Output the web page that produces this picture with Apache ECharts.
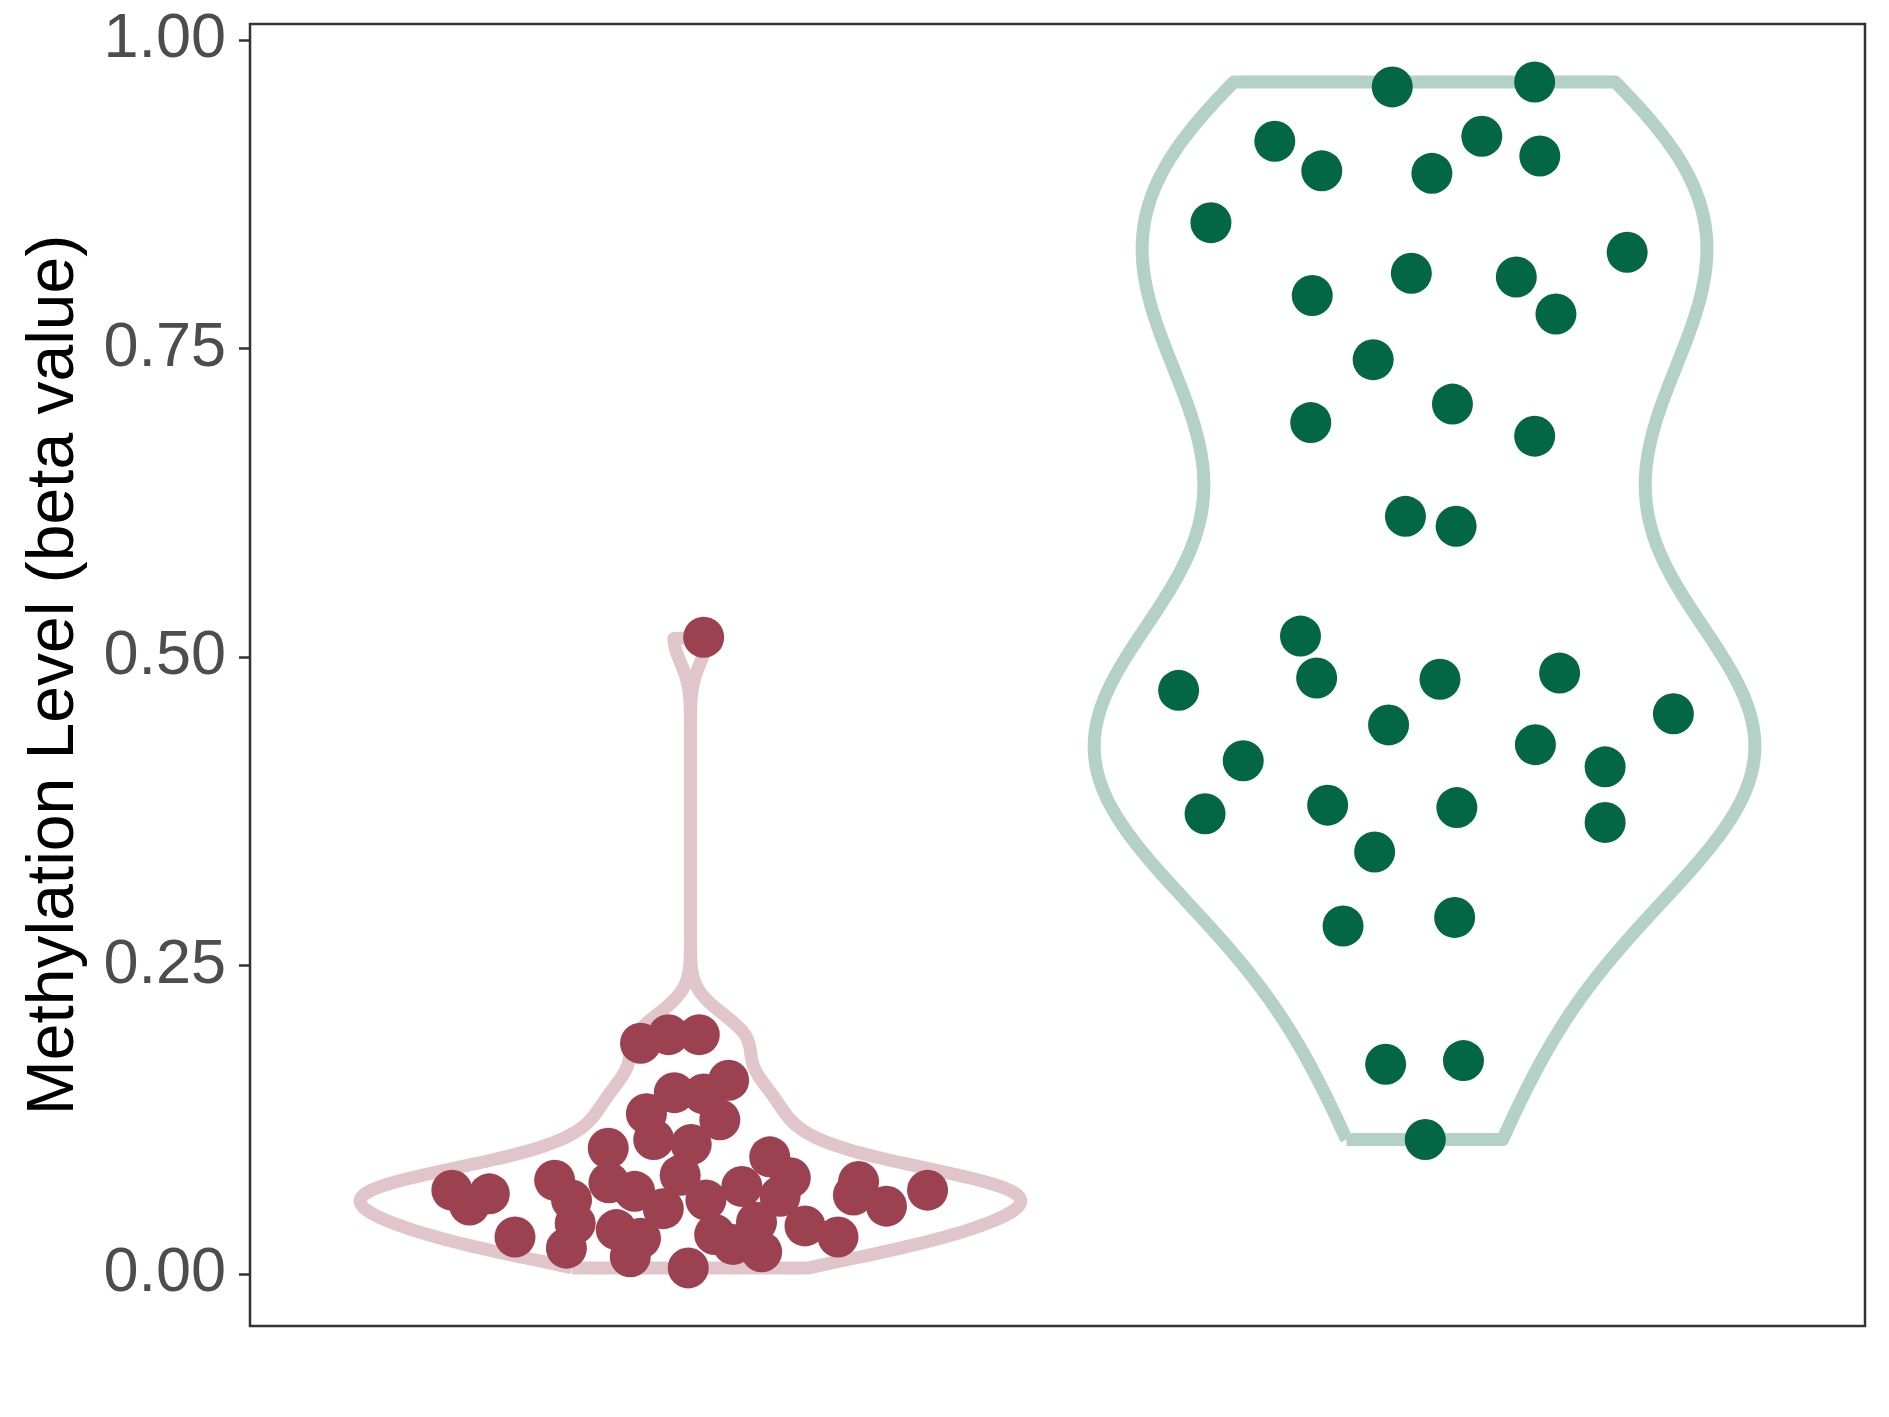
<!DOCTYPE html>
<html>
<head>
<meta charset="utf-8">
<script src="https://cdn.jsdelivr.net/npm/echarts@6/dist/echarts.min.js"></script>
<style>
  html, body { margin: 0; padding: 0; background: #fff; }
  #chart { width: 1889px; height: 1417px; }
</style>
</head>
<body>
<div id="chart"></div>
<script>
// group centres on the (hidden) x axis
const groupCenters = [1, 2];
const tickValues = [0, 0.25, 0.5, 0.75, 1];

// left group (red) - beta values and jittered x positions
const leftValues = [0.516, 0.187, 0.194, 0.194, 0.147, 0.146, 0.157, 0.130, 0.125, 0.109,
  0.105, 0.102, 0.095, 0.080, 0.068, 0.056, 0.065, 0.076, 0.060, 0.041,
  0.021, 0.030, 0.074, 0.067, 0.053, 0.036, 0.029, 0.014, 0.005, 0.060,
  0.071, 0.078, 0.063, 0.042, 0.032, 0.024, 0.018, 0.039, 0.030, 0.075,
  0.064, 0.055, 0.068];
const leftJitter = [1.018, 0.932, 0.970, 1.012, 0.978, 1.018, 1.052, 0.940, 1.040, 0.950,
  1.001, 0.888, 1.108, 0.986, 0.675, 0.699, 0.726, 0.815, 0.838, 0.843,
  0.831, 0.761, 0.889, 0.924, 0.963, 0.899, 0.932, 0.918, 0.997, 1.021,
  1.070, 1.136, 1.122, 1.090, 1.033, 1.058, 1.097, 1.156, 1.201, 1.229,
  1.222, 1.267, 1.323];

// right group (green)
const rightValues = [0.962, 0.966, 0.918, 0.894, 0.892, 0.922, 0.906, 0.852, 0.828, 0.793,
  0.811, 0.808, 0.778, 0.741, 0.690, 0.705, 0.679, 0.614, 0.606, 0.517,
  0.473, 0.483, 0.482, 0.487, 0.454, 0.445, 0.416, 0.429, 0.411, 0.373,
  0.380, 0.378, 0.366, 0.342, 0.282, 0.289, 0.170, 0.173, 0.109];
const rightJitter = [1.956, 2.150, 1.796, 1.860, 2.010, 2.078, 2.157, 1.709, 2.276, 1.847,
  1.982, 2.125, 2.179, 1.930, 1.845, 2.038, 2.150, 1.974, 2.043, 1.831,
  1.665, 1.853, 2.021, 2.184, 2.339, 1.951, 1.753, 2.151, 2.246, 1.701,
  1.868, 2.044, 2.246, 1.932, 1.889, 2.041, 1.947, 2.053, 2.001];

// gaussian kde, bw.nrd0 like R, trimmed to data range
function quantile(s, p) {
  const h = (s.length - 1) * p;
  const lo = Math.floor(h);
  const hi = Math.min(lo + 1, s.length - 1);
  return s[lo] + (h - lo) * (s[hi] - s[lo]);
}
function violinOutline(vals, center, halfWidth) {
  const s = vals.slice().sort((a, b) => a - b);
  const n = s.length;
  const mean = s.reduce((a, b) => a + b, 0) / n;
  const sd = Math.sqrt(s.reduce((a, b) => a + (b - mean) * (b - mean), 0) / (n - 1));
  const iqr = quantile(s, 0.75) - quantile(s, 0.25);
  const bw = 0.9 * Math.min(sd, iqr / 1.34) * Math.pow(n, -0.2);
  const lo = s[0], hi = s[n - 1];
  const steps = 512;
  const ys = [], ds = [];
  for (let i = 0; i < steps; i++) {
    const y = lo + (hi - lo) * i / (steps - 1);
    let d = 0;
    for (const v of s) {
      const z = (y - v) / bw;
      d += Math.exp(-0.5 * z * z);
    }
    ys.push(y);
    ds.push(d);
  }
  const maxD = Math.max(...ds);
  const leftSide = [], rightSide = [];
  for (let i = 0; i < steps; i++) {
    const w = halfWidth * ds[i] / maxD;
    leftSide.push([center - w, ys[i]]);
    rightSide.push([center + w, ys[i]]);
  }
  const pts = leftSide.concat(rightSide.reverse());
  pts.push(pts[0]);
  return pts;
}

const chart = echarts.init(document.getElementById('chart'));
chart.setOption({
  animation: false,
  backgroundColor: '#ffffff',
  grid: {
    left: 250, right: 24, top: 24, bottom: 91,
    show: true, borderColor: '#333333', borderWidth: 2.5, backgroundColor: 'transparent'
  },
  xAxis: {
    type: 'value', min: 0.4, max: 2.6,
    axisLine: { show: false }, axisTick: { show: false },
    axisLabel: { show: false }, splitLine: { show: false }
  },
  yAxis: {
    type: 'value', min: -0.0421, max: 1.013,
    name: 'Methylation Level (beta value)',
    nameLocation: 'middle',
    nameGap: 162,
    nameTextStyle: { color: '#000000', fontSize: 66, fontFamily: 'Liberation Sans' },
    axisLine: { show: false },
    axisTick: {
      show: true, length: 11, customValues: tickValues,
      lineStyle: { color: '#333333', width: 2.5 }
    },
    axisLabel: {
      customValues: tickValues, margin: 24,
      color: '#4D4D4D', fontSize: 63, fontFamily: 'Liberation Sans',
      formatter: v => v.toFixed(2)
    },
    splitLine: { show: false }
  },
  series: [
    {
      type: 'line', z: 1, data: violinOutline(leftValues, groupCenters[0], 0.45),
      showSymbol: false, smooth: false, silent: true,
      lineStyle: { color: '#E0C6CB', width: 13, join: 'round' }
    },
    {
      type: 'line', z: 1, data: violinOutline(rightValues, groupCenters[1], 0.45),
      showSymbol: false, smooth: false, silent: true,
      lineStyle: { color: '#B3D1C6', width: 13, join: 'round' }
    },
    {
      type: 'scatter', z: 5, symbolSize: 41,
      data: leftValues.map((v, i) => [leftJitter[i], v]),
      itemStyle: { color: '#9B4150', opacity: 1 }
    },
    {
      type: 'scatter', z: 5, symbolSize: 41,
      data: rightValues.map((v, i) => [rightJitter[i], v]),
      itemStyle: { color: '#036745', opacity: 1 }
    }
  ]
});
</script>
</body>
</html>
